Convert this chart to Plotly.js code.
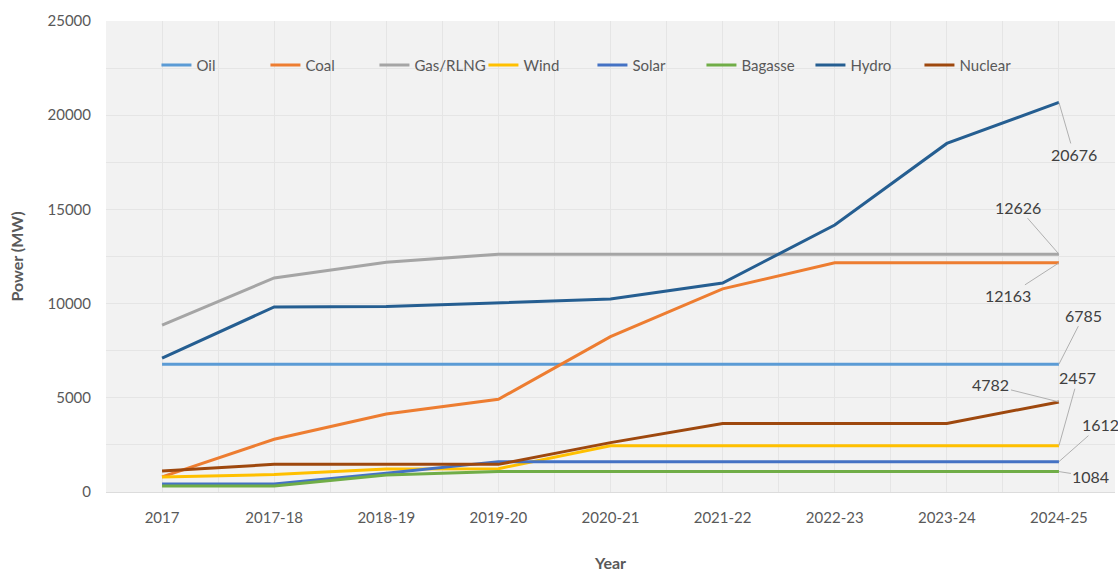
<!DOCTYPE html>
<html>
<head>
<meta charset="utf-8">
<script src="https://cdn.plot.ly/plotly-3.0.1.min.js"></script>
<style>html,body{margin:0;padding:0;background:#fff;}#chart{width:1118px;height:572px;}</style>
</head>
<body>
<div id="chart"></div>
<script>
const categories = ["2017","2017-18","2018-19","2019-20","2020-21","2021-22","2022-23","2023-24","2024-25"];
const oil     = [6785, 6785, 6785, 6785, 6785, 6785, 6785, 6785, 6785];
const coal    = [800, 2800, 4140, 4920, 8250, 10780, 12163, 12163, 12163];
const gas     = [8860, 11360, 12200, 12626, 12626, 12626, 12626, 12626, 12626];
const wind    = [790, 930, 1220, 1240, 2457, 2457, 2457, 2457, 2457];
const solar   = [420, 420, 1000, 1612, 1612, 1612, 1612, 1612, 1612];
const bagasse = [320, 320, 900, 1084, 1084, 1084, 1084, 1084, 1084];
const hydro   = [7110, 9820, 9846, 10030, 10240, 11090, 14170, 18500, 20676];
const nuclear = [1120, 1467, 1467, 1467, 2620, 3635, 3635, 3635, 4782];
const seriesNames = ["Oil","Coal","Gas/RLNG","Wind","Solar","Bagasse","Hydro","Nuclear"];
const seriesData = [oil, coal, gas, wind, solar, bagasse, hydro, nuclear];
const colors = ["#5B9BD5","#ED7D31","#A5A5A5","#FFC000","#4472C4","#70AD47","#255E91","#9E480E"];
const endLabels = [
  {s:6, ax:15, ay:52},
  {s:2, ax:-41, ay:-47},
  {s:1, ax:-51, ay:33},
  {s:0, ax:25, ay:-49},
  {s:7, ax:-68, ay:-17},
  {s:3, ax:19, ay:-68},
  {s:4, ax:42, ay:-37},
  {s:5, ax:32, ay:5}
];
const FONT = "Lato, 'Open Sans', sans-serif";
const xIdx = categories.map((c,i)=>i);
const traces = seriesNames.map((n,i)=>({
  type:'scatter', mode:'lines', name:n, x:xIdx, y:seriesData[i],
  line:{color:colors[i], width:3}
}));
const last = categories.length-1;
const annotations = endLabels.map(e=>({
  x:last, y:seriesData[e.s][last], xref:'x', yref:'y',
  text:String(seriesData[e.s][last]), showarrow:true, arrowhead:0, arrowwidth:1,
  arrowcolor:'#b0b0b0', ax:e.ax, ay:e.ay, standoff:0,
  font:{family:FONT, size:16, color:'#404040'}
}));
const layout = {
  width:1118, height:572,
  margin:{l:106, r:3, t:21, b:80},
  paper_bgcolor:'#ffffff', plot_bgcolor:'#f2f2f2',
  font:{family:FONT, color:'#595959'},
  showlegend:true,
  legend:{orientation:'h', x:0.05, y:0.906, xanchor:'left', yanchor:'middle',
    bgcolor:'rgba(0,0,0,0)', font:{family:FONT, size:15, color:'#595959'},
    itemwidth:30, entrywidth:64, entrywidthmode:'pixels', traceorder:'normal'},
  xaxis:{type:'linear', range:[-0.5, 8.5], tickmode:'array', tickvals:xIdx, ticktext:categories,
    showgrid:true, gridcolor:'#e5e5e5', gridwidth:1, zeroline:false,
    showline:true, linecolor:'#dcdcdc', linewidth:1, ticks:'', ticklabelstandoff:12,
    tickfont:{family:FONT, size:15, color:'#595959'},
    minor:{tickmode:'linear', tick0:-0.5, dtick:1, showgrid:true, gridcolor:'#e5e5e5', gridwidth:1},
    title:{text:'<b>Year</b>', font:{family:FONT, size:16, color:'#595959'}, standoff:34}},
  yaxis:{range:[0,25000], tickmode:'linear', tick0:0, dtick:5000, tickformat:'d', showgrid:true,
    gridcolor:'#e5e5e5', zeroline:false, showline:false, ticks:'',
    tickfont:{family:FONT, size:15, color:'#595959'}, ticklabelstandoff:14,
    minor:{tickmode:'linear', tick0:0, dtick:2500, showgrid:true, gridcolor:'#e5e5e5', gridwidth:1},
    title:{text:'<b>Power (MW)</b>', font:{family:FONT, size:16, color:'#595959'}, standoff:19}},
  annotations:annotations
};
Plotly.newPlot('chart', traces, layout, {displayModeBar:false, staticPlot:true});
</script>
</body>
</html>
